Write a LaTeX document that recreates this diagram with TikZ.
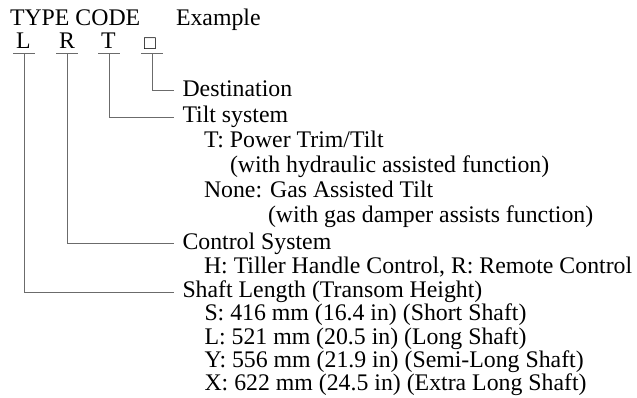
\documentclass[tikz,border=0pt]{standalone}
\usepackage{fontspec}
\setmainfont{Liberation Serif}
\usetikzlibrary{calc}
\begin{document}
\begin{tikzpicture}[x=1pt,y=-1pt,
  every node/.style={inner sep=0pt, outer sep=0pt, font=\fontsize{23.8}{26}\selectfont},
  txt/.style={anchor=base west},
  code/.style={anchor=base},
  conn/.style={draw=black!58, line width=1pt}]
\useasboundingbox (0,0) rectangle (637,397);
% heading
\node[txt] (head) at (10,25) {TYPE CODE};
\node[txt] (ex) at (176,25) {Example};
% code letters
\node[code] (cL) at (23.5,48) {L};
\node[code] (cR) at (67,48) {R};
\node[code] (cT) at (108.5,48) {T};
\node[code,font=\fontsize{19.5}{21}\selectfont] (cD) at (150,49) {□};
% bar coordinates
\coordinate (bL) at (24,53);
\coordinate (bR) at (67,53);
\coordinate (bT) at (109,53);
\coordinate (bD) at (152,53);
\foreach \b in {bL,bR,bT,bD}{\draw[conn] ($(\b)+(-11,0)$) -- ($(\b)+(11,0)$);}
% descriptions
\node[txt] (dest) at (182.5,96) {Destination};
\node[txt] (tilt) at (182.5,122) {Tilt system};
\node[txt] (t1) at (204,147) {T: Power Trim/Tilt};
\node[txt] (t2) at (230,172) {(with hydraulic assisted function)};
\node[txt] (t3) at (204,197) {None: Gas Assisted Tilt};
\node[txt] (t4) at (268,222) {(with gas damper assists function)};
\node[txt] (ctrl) at (182.5,249) {Control System};
\node[txt] (c1) at (204,273.5) {H: Tiller Handle Control, R: Remote Control};
\node[txt] (shaft) at (182.5,297) {Shaft Length (Transom Height)};
\node[txt] (s1) at (204.5,320.5) {S: 416 mm (16.4 in) (Short Shaft)};
\node[txt] (s2) at (204.5,344) {L: 521 mm (20.5 in) (Long Shaft)};
\node[txt] (s3) at (204.5,367) {Y: 556 mm (21.9 in) (Semi-Long Shaft)};
\node[txt] (s4) at (204.5,390) {X: 622 mm (24.5 in) (Extra Long Shaft)};
% connector ends
\coordinate (eD) at ($(dest.base west)+(-8.5,-6)$);
\coordinate (eT) at ($(tilt.base west)+(-8.5,-5)$);
\coordinate (eR) at ($(ctrl.base west)+(-8.5,-6)$);
\coordinate (eL) at ($(shaft.base west)+(-8.5,-5)$);
% connectors
\draw[conn] (bD) |- (eD);
\draw[conn] (bT) |- (eT);
\draw[conn] (bR) |- (eR);
\draw[conn] (bL) |- (eL);
\end{tikzpicture}
\end{document}
